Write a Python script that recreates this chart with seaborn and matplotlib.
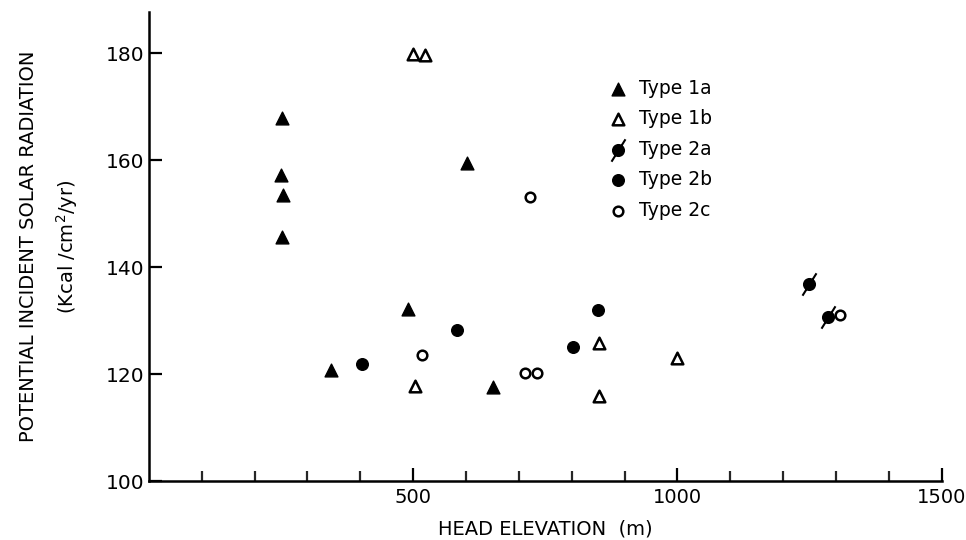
import numpy as np
import pandas as pd
import matplotlib
matplotlib.use("Agg")
import matplotlib.pyplot as plt
from matplotlib.path import Path
from matplotlib.ticker import FixedLocator
import seaborn as sns

# ---- data ----
type1a_x = [252, 250, 253, 252, 344, 490, 601, 651]
type1a_y = [167.9, 157.2, 153.5, 145.6, 120.7, 132.1, 159.4, 117.6]

type1b_x = [499, 522, 503, 851, 851, 1000]
type1b_y = [179.8, 179.6, 117.8, 125.8, 115.9, 123.0]

type2a_x = [1248, 1284]
type2a_y = [136.8, 130.7]

type2b_x = [403, 583, 802, 849]
type2b_y = [121.9, 128.2, 125.0, 132.0]

type2c_x = [516, 711, 734, 721, 1307]
type2c_y = [123.6, 120.2, 120.2, 153.1, 131.0]

labels = ["Type 1a", "Type 1b", "Type 2a", "Type 2b", "Type 2c"]
x_ticks_major = [500, 1000, 1500]
y_ticks = [100, 120, 140, 160, 180]

sns.set_theme(style="white")
plt.rcParams['font.family'] = ['DejaVu Sans']

# circle with a slash through it (Type 2a)
ang = np.deg2rad(58)
L = 2.4
circ = Path.unit_circle()
seg = Path([[-L * np.cos(ang), -L * np.sin(ang)], [L * np.cos(ang), L * np.sin(ang)]],
           [Path.MOVETO, Path.LINETO])
slash_circle = Path.make_compound_path(circ, seg)

fig = plt.figure(figsize=(9.66, 5.4), dpi=100)
ax = fig.add_axes([0.154, 0.109, 0.821, 0.869])

frames = []
for lab, xs, ys in zip(labels,
                       [type1a_x, type1b_x, type2a_x, type2b_x, type2c_x],
                       [type1a_y, type1b_y, type2a_y, type2b_y, type2c_y]):
    frames.append(pd.DataFrame({"elev": xs, "rad": ys, "Type": lab}))
df = pd.concat(frames, ignore_index=True)

styles = {
    "Type 1a": dict(marker="^", s=85, facecolor="black", edgecolor="black", linewidth=1.0),
    "Type 1b": dict(marker="^", s=70, facecolor="white", edgecolor="black", linewidth=1.8),
    "Type 2a": dict(marker=slash_circle, s=260, facecolor="black", edgecolor="black", linewidth=1.5),
    "Type 2b": dict(marker="o", s=70, facecolor="black", edgecolor="black", linewidth=1.0),
    "Type 2c": dict(marker="o", s=48, facecolor="white", edgecolor="black", linewidth=1.8),
}

for lab in labels:
    sub = df[df["Type"] == lab]
    st = styles[lab]
    sns.scatterplot(data=sub, x="elev", y="rad", ax=ax, label=lab,
                    marker=st["marker"], s=st["s"], facecolor=st["facecolor"],
                    edgecolor=st["edgecolor"], linewidth=st["linewidth"], zorder=3)

ax.set_xlim(0, 1500)
ax.set_ylim(100, 187.7)

ax.xaxis.set_major_locator(FixedLocator(x_ticks_major))
ax.xaxis.set_minor_locator(FixedLocator([v for v in range(100, 1500, 100) if v not in x_ticks_major]))
ax.yaxis.set_major_locator(FixedLocator(y_ticks))

ax.tick_params(axis="x", which="major", direction="in", length=9.5, width=1.6,
               labelsize=14, pad=5, bottom=True, colors="black")
ax.tick_params(axis="x", which="minor", direction="in", length=7, width=1.6, bottom=True)
ax.tick_params(axis="y", which="major", direction="in", length=9, width=1.6,
               labelsize=14.5, pad=3, left=True, colors="black")

for side in ["top", "right"]:
    ax.spines[side].set_visible(False)
for side in ["left", "bottom"]:
    ax.spines[side].set_linewidth(1.8)
    ax.spines[side].set_color("black")

ax.set_xlabel("HEAD ELEVATION  (m)", fontsize=14, labelpad=9, color="black")
ax.set_ylabel("POTENTIAL INCIDENT SOLAR RADIATION\n(Kcal /cm$^2$/yr)", fontsize=14,
              labelpad=19, color="black", linespacing=1.8)

leg = ax.legend(loc="upper left", bbox_to_anchor=(0.58, 0.858), frameon=False,
                fontsize=13.5, labelspacing=0.62, handletextpad=0.6, borderaxespad=0,
                handlelength=1.0, borderpad=0)
for t in leg.get_texts():
    t.set_color("black")

fig.savefig("out.png", dpi=100)
